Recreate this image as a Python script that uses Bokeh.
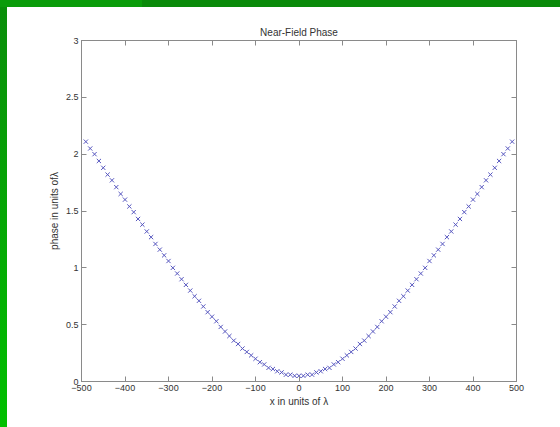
from bokeh.plotting import figure
from bokeh.models import LinearAxis, FixedTicker, Div, Range1d
from bokeh.layouts import column, row
from bokeh.embed import file_html
from bokeh.resources import INLINE

# sample positions (units of lambda) and near-field phase (units of lambda)
x_pos = [-490, -480, -470, -460, -450, -440, -430, -420, -410, -400,
         -390, -380, -370, -360, -350, -340, -330, -320, -310, -300,
         -290, -280, -270, -260, -250, -240, -230, -220, -210, -200,
         -190, -180, -170, -160, -150, -140, -130, -120, -110, -100,
         -90, -80, -70, -60, -50, -40, -30, -20, -10, 0,
         10, 20, 30, 40, 50, 60, 70, 80, 90, 100,
         110, 120, 130, 140, 150, 160, 170, 180, 190, 200,
         210, 220, 230, 240, 250, 260, 270, 280, 290, 300,
         310, 320, 330, 340, 350, 360, 370, 380, 390, 400,
         410, 420, 430, 440, 450, 460, 470, 480, 490]
phase = [2.11, 2.05, 2.00, 1.94, 1.88, 1.82, 1.77, 1.71, 1.65, 1.60,
         1.54, 1.49, 1.43, 1.38, 1.32, 1.27, 1.21, 1.16, 1.11, 1.06,
         1.00, 0.95, 0.90, 0.85, 0.80, 0.75, 0.71, 0.66, 0.61, 0.57,
         0.53, 0.48, 0.44, 0.40, 0.36, 0.33, 0.29, 0.26, 0.23, 0.20,
         0.17, 0.15, 0.12, 0.11, 0.09, 0.08, 0.06, 0.06, 0.05, 0.05,
         0.05, 0.06, 0.06, 0.08, 0.09, 0.11, 0.12, 0.15, 0.17, 0.20,
         0.23, 0.26, 0.29, 0.33, 0.36, 0.40, 0.44, 0.48, 0.53, 0.57,
         0.61, 0.66, 0.71, 0.75, 0.80, 0.85, 0.90, 0.95, 1.00, 1.06,
         1.11, 1.16, 1.21, 1.27, 1.32, 1.38, 1.43, 1.49, 1.54, 1.60,
         1.65, 1.71, 1.77, 1.82, 1.88, 1.94, 2.00, 2.05, 2.11]

x_ticks = [-500, -400, -300, -200, -100, 0, 100, 200, 300, 400, 500]
y_ticks = [0, 0.5, 1, 1.5, 2, 2.5, 3]

FONT = "Liberation Sans"
AXIS_COLOR = "#8a8a8a"
TEXT_COLOR = "#333333"

p = figure(width=553, height=420, output_backend="svg", toolbar_location=None,
           x_range=Range1d(-500, 500), y_range=Range1d(0, 3),
           title="Near-Field Phase")
p.min_border_left = 74
p.min_border_right = 44
p.min_border_top = 33
p.min_border_bottom = 46
p.background_fill_color = "white"
p.border_fill_color = "white"
p.outline_line_color = AXIS_COLOR
p.grid.visible = False

p.title.align = "center"
p.title.text_font = FONT
p.title.text_font_size = "10px"
p.title.text_font_style = "normal"
p.title.text_color = TEXT_COLOR
p.title.standoff = 6

p.add_layout(LinearAxis(), "above")
p.add_layout(LinearAxis(), "right")

for ax in p.xaxis:
    ax.ticker = FixedTicker(ticks=x_ticks)
for ax in p.yaxis:
    ax.ticker = FixedTicker(ticks=y_ticks)

for ax in p.axis:
    ax.axis_line_color = AXIS_COLOR
    ax.major_tick_line_color = AXIS_COLOR
    ax.major_tick_in = 5
    ax.major_tick_out = 0
    ax.minor_tick_line_color = None
    ax.major_label_text_font = FONT
    ax.major_label_text_font_size = "9px"
    ax.major_label_text_color = TEXT_COLOR
    ax.major_label_standoff = 3
    ax.axis_label_text_font = FONT
    ax.axis_label_text_font_size = "10px"
    ax.axis_label_text_font_style = "normal"
    ax.axis_label_text_color = TEXT_COLOR

# frame ticks on the top and right carry no labels
p.above[0].major_label_overrides = {t: "" for t in x_ticks}
p.right[0].major_label_overrides = {t: "" for t in y_ticks}
p.above[0].major_label_standoff = 0
p.right[0].major_label_standoff = 0

p.below[0].axis_label = "x in units of \u03bb"
p.below[0].axis_label_standoff = 2
p.left[0].axis_label = "phase in units of\u03bb"
p.left[0].axis_label_standoff = 3

p.scatter(x_pos, phase, marker="x", size=6, line_color="#5656bf", line_width=1)

top_bar = Div(text="", width=560, height=7, margin=(0, 0, 0, 0),
              styles={"background": "linear-gradient(to right, #0a9c0a 0px, #0a9c0a 142px, #0a8a0a 142px, #0a8a0a 100%)"})
left_bar = Div(text="", width=7, height=420, margin=(0, 0, 0, 0),
               styles={"background": "linear-gradient(to bottom, #0a8e0a, #00c000)"})

page = column(top_bar, row(left_bar, p, spacing=0), spacing=0)

open("out.html", "w").write(file_html(page, INLINE))
